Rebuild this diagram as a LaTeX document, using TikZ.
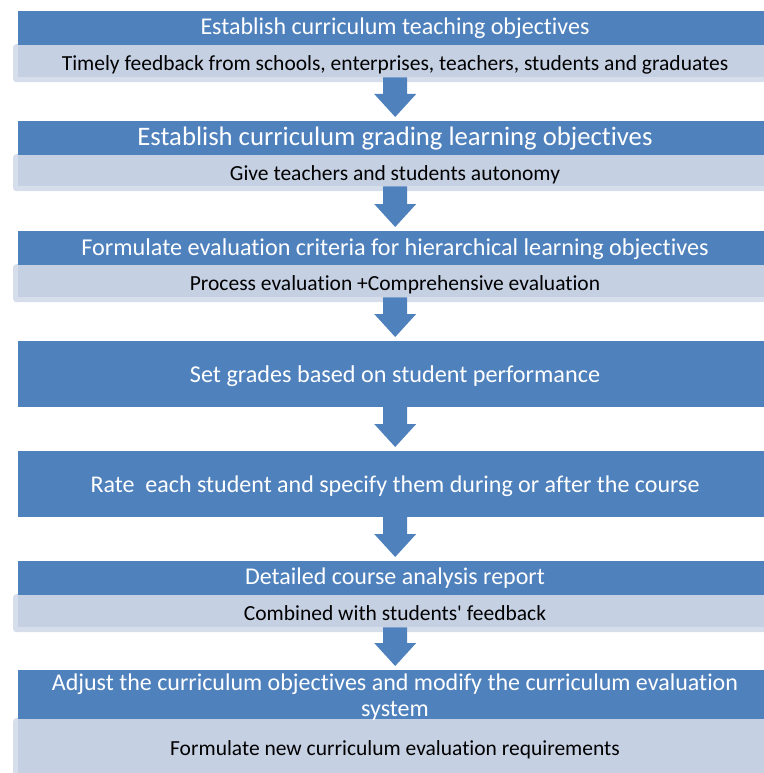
\documentclass[tikz,border=0pt]{standalone}
\usepackage{fontspec}
\setmainfont{Carlito}[Ligatures={TeXOff,NoCommon}]
\usetikzlibrary{calc}
\definecolor{hdrblue}{HTML}{4F81BD}
\definecolor{subfill}{HTML}{C5D0E3}
\definecolor{subedge}{HTML}{D6DEEC}
\newcommand\fsz[1]{\fontsize{#1}{#1}\selectfont}
\begin{document}
\begin{tikzpicture}[x=1pt,y=-1pt,
  hdrbox/.style={fill=hdrblue, draw=none, inner sep=0pt, anchor=north west, minimum width=754pt},
  subbox/.style={fill=subedge, draw=none, inner sep=0pt, anchor=north west, minimum width=764pt, rounded corners=3pt},
  hdrtext/.style={text=white, inner sep=0pt, anchor=base},
  subtext/.style={text=black, inner sep=0pt, anchor=base, font=\fsz{21.5}},
]
\useasboundingbox (0,0) rectangle (763,773);

% light sub-panels (outer pale rim, inner fill)
\foreach \n/\top/\h in {s1/44/38, s2/154/37, s3/264/38, s6/594/38, s7/718/80}{
  \node[subbox, minimum height=\h pt] (\n) at (13,\top) {};
  \fill[subfill] ($(\n.north west)+(5,0)$) rectangle ($(\n.south east)+(-5,-5)$);
}

% header bars
\node[hdrbox, minimum height=34pt] (h1) at (18,11) {};
\node[hdrbox, minimum height=34pt] (h2) at (18,121) {};
\node[hdrbox, minimum height=34pt] (h3) at (18,231) {};
\node[hdrbox, minimum height=66pt] (h4) at (18,341) {};
\node[hdrbox, minimum height=66pt] (h5) at (18,451) {};
\node[hdrbox, minimum height=34pt] (h6) at (18,561) {};
\node[hdrbox, minimum height=49pt] (h7) at (18,670) {};

% block arrows between stages
\newcommand\flowarrow[2]{%
  \fill[hdrblue] let \p1=(#1.south), \p2=(#2.north) in
    (\x1-12,\y1+5) -- (\x1-12,\y2+27) -- (\x1-21,\y2+27) -- (\x1,\y2+4)
    -- (\x1+21,\y2+27) -- (\x1+12,\y2+27) -- (\x1+12,\y1+5) -- cycle;}
\flowarrow{s1}{h2}
\flowarrow{s2}{h3}
\flowarrow{s3}{h4}
\flowarrow{h4}{h5}
\flowarrow{h5}{h6}
\flowarrow{s6}{h7}

% labels
\node[hdrtext, font=\fsz{24}] (t1) at (395,35) {Establish curriculum teaching objectives};
\node[subtext] (u1) at (395,71) {Timely feedback from schools, enterprises, teachers, students and graduates};
\node[hdrtext, font=\fsz{26.7}] (t2) at (395,145) {Establish curriculum grading learning objectives};
\node[subtext] (u2) at (395,180.5) {Give teachers and students autonomy};
\node[hdrtext, font=\fsz{24.2}] (t3) at (395,255) {Formulate evaluation criteria for hierarchical learning objectives};
\node[subtext] (u3) at (395,290) {Process evaluation +Comprehensive evaluation};
\node[hdrtext, font=\fsz{24.2}] (t4) at (395,382) {Set grades based on student performance};
\node[hdrtext, font=\fsz{24}] (t5) at (395,492) {Rate\ \ each student and specify them during or after the course};
\node[hdrtext, font=\fsz{24}] (t6) at (395,584) {Detailed course analysis report};
\node[subtext] (u6) at (395,620) {Combined with students' feedback};
\node[hdrtext, font=\fsz{24}] (t7a) at (395,690) {Adjust the curriculum objectives and modify the curriculum evaluation};
\node[hdrtext, font=\fsz{24}] (t7b) at (395,716.5) {system};
\node[subtext] (u7) at (395,755) {Formulate new curriculum evaluation requirements};
\end{tikzpicture}
\end{document}
